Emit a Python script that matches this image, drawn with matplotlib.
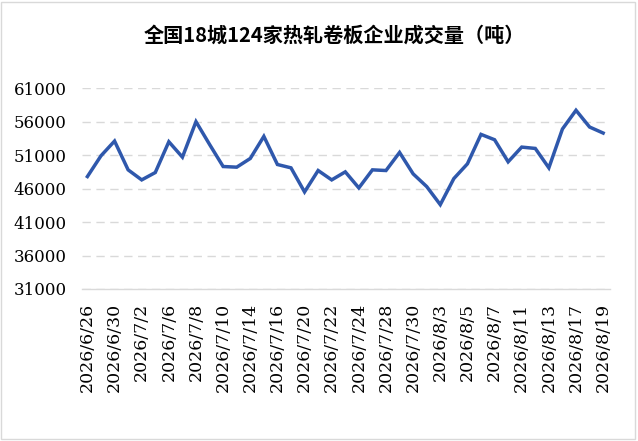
import matplotlib
matplotlib.use("Agg")
import matplotlib.pyplot as plt
from matplotlib.patches import Rectangle

dates = ["2026/6/26", "2026/6/29", "2026/6/30", "2026/7/1", "2026/7/2", "2026/7/3",
         "2026/7/6", "2026/7/7", "2026/7/8", "2026/7/9", "2026/7/10", "2026/7/13",
         "2026/7/14", "2026/7/15", "2026/7/16", "2026/7/17", "2026/7/20", "2026/7/21",
         "2026/7/22", "2026/7/23", "2026/7/24", "2026/7/27", "2026/7/28", "2026/7/29",
         "2026/7/30", "2026/7/31", "2026/8/3", "2026/8/4", "2026/8/5", "2026/8/6",
         "2026/8/7", "2026/8/10", "2026/8/11", "2026/8/12", "2026/8/13", "2026/8/14",
         "2026/8/17", "2026/8/18", "2026/8/19"]
volume = [47800, 50900, 53100, 48800, 47300, 48400, 53000, 50700, 56000, 52600,
          49300, 49200, 50500, 53800, 49600, 49100, 45500, 48700, 47300, 48500,
          46100, 48800, 48700, 51400, 48200, 46300, 43600, 47500, 49700, 54100,
          53300, 50000, 52200, 52000, 49100, 54900, 57700, 55200, 54300]
yticks = [31000, 36000, 41000, 46000, 51000, 56000, 61000]

fig = plt.figure(figsize=(6.38, 4.41), dpi=100)
ax = fig.add_axes([0.1285, 0.3447, 0.8275, 0.4553])

x = list(range(len(dates)))
ax.plot(x, volume, color="#2f58ac", linewidth=2.5, solid_joinstyle="miter")

ax.set_xlim(-0.4, 38.5)
ax.set_ylim(31000, 61000)
ax.set_yticks(yticks)
ax.set_yticklabels([str(v) for v in yticks], fontfamily="DejaVu Serif", fontsize=12)
ax.set_xticks(x[::2])
ax.set_xticklabels(dates[::2], rotation=90, fontfamily="DejaVu Serif", fontsize=12.5,
                   va="top")
ax.tick_params(length=0)
ax.tick_params(axis="y", pad=11)
ax.tick_params(axis="x", pad=10)

ax.grid(axis="y", color="#d9d9d9", linestyle=(0, (6, 4)), linewidth=1)
for s in ["top", "right", "left"]:
    ax.spines[s].set_visible(False)
ax.spines["bottom"].set_color("#d9d9d9")
ax.spines["bottom"].set_linewidth(1)

fig.text(0.524, 0.921, "全国18城124家热轧卷板企业成交量（吨）", ha="center", va="center",
         fontsize=14.5, fontweight="bold", family=["Noto Sans CJK SC", "DejaVu Sans"])

fig.patches.append(Rectangle((0.002, 0.004), 0.994, 0.992, transform=fig.transFigure,
                             fill=False, edgecolor="#d9d9d9", linewidth=1))

fig.savefig("out.png", dpi=100)
